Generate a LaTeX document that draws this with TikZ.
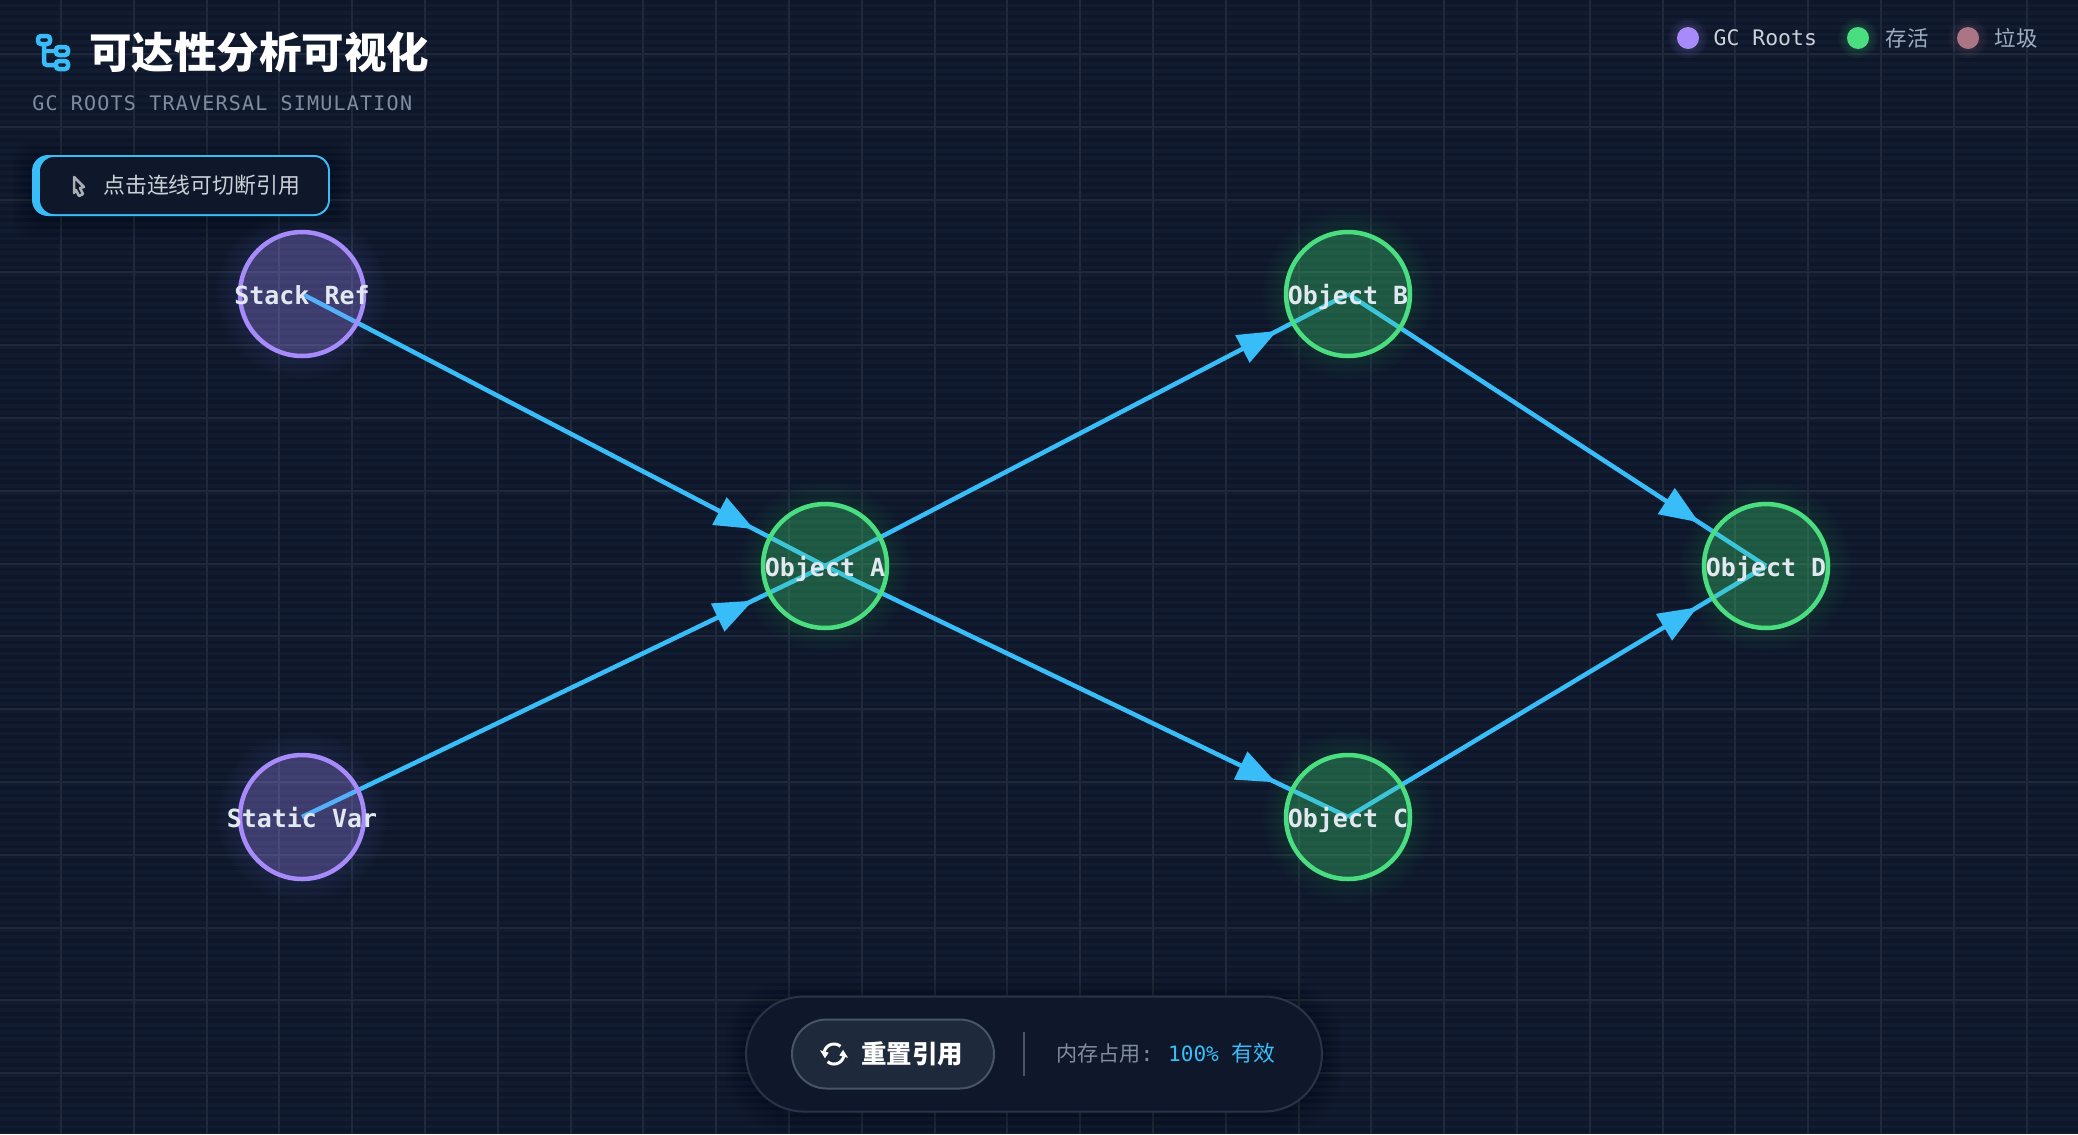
\documentclass[tikz,border=0pt]{standalone}
\usepackage{fontspec}
\setmainfont{DejaVu Sans Mono}
\newfontfamily\cjkfont{Noto Sans CJK SC}
\newfontfamily\spacedfont[LetterSpace=6]{DejaVu Sans Mono}
\usetikzlibrary{arrows.meta, positioning, decorations.markings}
\definecolor{cBase}{RGB}{18,28,49}
\definecolor{cScan}{RGB}{14,23,41}
\definecolor{cGrid}{RGB}{31,41,58}
\definecolor{cPanel}{RGB}{15,23,42}
\definecolor{cPanelLine}{RGB}{42,52,71}
\definecolor{cButton}{RGB}{30,41,59}
\definecolor{cButtonLine}{RGB}{71,85,105}
\definecolor{cSky}{RGB}{56,189,248}
\definecolor{cRoot}{RGB}{167,139,250}
\definecolor{cLive}{RGB}{74,222,128}
\definecolor{cDead}{RGB}{170,118,134}
\definecolor{cLabel}{RGB}{226,232,240}
\definecolor{cMuted}{RGB}{160,174,194}
\definecolor{cDim}{RGB}{128,141,160}
\pgfdeclarelayer{backdrop}
\pgfdeclarelayer{edges}
\pgfsetlayers{backdrop,edges,main}
\newcommand{\objtext}[1]{\makebox[0pt]{#1}}
\tikzset{
	objnode/.style ={circle, draw=#1, line width=0.09cm, fill=#1, fill opacity=0.26, text opacity=1, text=cLabel, minimum size=2.48cm, inner sep=0pt, font=\fontsize{14.2}{16}\selectfont\bfseries, text height=0.44cm, text depth=0.02cm},
	glowring/.style={circle, fill=#1, opacity=0.012, draw=none},
	shadowbox/.style={rectangle, fill=black, opacity=0.025, draw=none, inner sep=0pt},
	refline/.style ={draw=cSky, line width=0.09cm, postaction={decorate}, decoration={markings, mark=at position -1.6cm with {\arrow{Triangle[length=0.78cm, width=0.6cm]}}}},
	legdot/.style  ={circle, fill=#1, minimum size=0.44cm, inner sep=0pt},
	legtext/.style ={text=cMuted, inner sep=0pt, font=\fontsize{12.2}{14}\selectfont},
	iconline/.style={draw=cSky, line width=0.09cm, rounded corners=0.06cm},
}
\begin{document}
\begin{tikzpicture}[x=0.02cm, y=-0.02cm]
	\useasboundingbox (0,0) rectangle (2078,1134);
	% backdrop
	\begin{pgfonlayer}{backdrop}
		\fill[cBase] (0,0) rectangle (2078,1134);
		\foreach \k in {0,...,155} {
			\fill[cScan] (0,{\k*7.28}) rectangle (2078,{\k*7.28+3.6});
		}
		\foreach \k in {0,...,28} {
			\draw[cGrid, line width=0.04cm] ({61+\k*72.8},0) -- ({61+\k*72.8},1134);
		}
		\foreach \k in {0,...,15} {
			\draw[cGrid, line width=0.04cm] (0,{54+\k*72.8}) -- (2078,{54+\k*72.8});
		}
	\end{pgfonlayer}

	% graph
	\node[objnode=cRoot] (stack) at (302,294) {\objtext{Stack Ref}};
	\node[objnode=cRoot] (static) at (302,817) {\objtext{Static Var}};
	\node[objnode=cLive] (obja) at (825,566) {\objtext{Object A}};
	\node[objnode=cLive] (objb) at (1348,294) {\objtext{Object B}};
	\node[objnode=cLive] (objc) at (1348,817) {\objtext{Object C}};
	\node[objnode=cLive] (objd) at (1766,566) {\objtext{Object D}};

	\begin{pgfonlayer}{edges}
		\foreach \nd/\col in {stack/cRoot, static/cRoot, obja/cLive, objb/cLive, objc/cLive, objd/cLive} {
			\foreach \dd in {2.6,2.7,...,3.4} {
				\node[glowring=\col, minimum size=\dd cm] at (\nd.center) {};
			}
		}
		\foreach \dd in {0.1,0.2,...,0.8} {
			\node[shadowbox, rounded corners=0.4cm, minimum width=5.96cm+\dd cm, minimum height=1.22cm+\dd cm] at (181,190) {};
			\node[shadowbox, rounded corners=1.2cm, minimum width=11.52cm+\dd cm, minimum height=2.3cm+\dd cm] at (1034,1056) {};
		}
		\draw[refline] (stack.center) -- (obja.center);
		\draw[refline] (static.center) -- (obja.center);
		\draw[refline] (obja.center) -- (objb.center);
		\draw[refline] (obja.center) -- (objc.center);
		\draw[refline] (objb.center) -- (objd.center);
		\draw[refline] (objc.center) -- (objd.center);
	\end{pgfonlayer}

	% header
	\draw[iconline] (38,36) rectangle (50,44);
	\draw[iconline] (56,47) rectangle (68,55);
	\draw[iconline] (56,61) rectangle (68,69);
	\draw[iconline] (44,44) -- (44,65) -- (56,65);
	\draw[iconline] (44,51) -- (56,51);
	\node[anchor=west, inner sep=0pt, text=white, font=\cjkfont\bfseries\fontsize{24.2}{28}\selectfont] (title) at (89,52) {可达性分析可视化};
	\node[anchor=west, inner sep=0pt, text=cDim, font=\spacedfont\fontsize{11.4}{13}\selectfont] (subtitle) at (32,103.5) {GC ROOTS TRAVERSAL SIMULATION};

	% hint card
	\node[rectangle, fill=cSky, rounded corners=0.32cm, minimum width=5.96cm, minimum height=1.22cm, inner sep=0pt] (cardback) at (181,185.5) {};
	\node[rectangle, fill=cPanel, rounded corners=0.28cm, minimum width=5.76cm, minimum height=1.14cm, inner sep=0pt] (cardfront) at (184,185.5) {};
	\draw[draw=cLabel!75!black, fill=cPanel, line width=0.05cm, line join=round] (74,177) -- (84,187) -- (80,188) -- (83,194) -- (79,196) -- (76,190) -- (74,193) -- cycle;
	\node[anchor=west, inner sep=0pt, text=cLabel!90!black, font=\cjkfont\fontsize{12.45}{14}\selectfont] (hint) at (103,185) {点击连线可切断引用};

	% legend
	\foreach \dx/\col in {1688/cRoot, 1858/cLive, 1968/cDead} {
		\foreach \dd in {0.5,0.56,...,0.8} {
			\node[glowring=\col, opacity=0.03, minimum size=\dd cm] at (\dx,38) {};
		}
	}
	\node[legdot=cRoot] (dotroot) at (1688,38) {};
	\node[legtext, right=0.28cm of dotroot, text=cLabel!90!black] (txtroot) {GC Roots};
	\node[legdot=cLive] (dotlive) at (1858,38) {};
	\node[legtext, right=0.32cm of dotlive, font=\cjkfont\fontsize{12.2}{14}\selectfont] (txtlive) {存活};
	\node[legdot=cDead] (dotdead) at (1968,38) {};
	\node[legtext, right=0.3cm of dotdead, font=\cjkfont\fontsize{12.2}{14}\selectfont] (txtdead) {垃圾};

	% bottom bar
	\node[rectangle, draw=cPanelLine, fill=cPanel, line width=0.04cm, rounded corners=1.15cm, minimum width=11.52cm, minimum height=2.3cm, inner sep=0pt] (bar) at (1034,1054) {};
	\node[rectangle, draw=cButtonLine, fill=cButton, line width=0.04cm, rounded corners=0.69cm, minimum width=4.04cm, minimum height=1.38cm, inner sep=0pt] (reset) at (893,1054) {};
	\foreach \a in {0,180} {
		\draw[white, line width=0.06cm] plot[variable=\t, domain=50:165, samples=16] ({834+10*cos(\t+\a)},{1054-10*sin(\t+\a)});
		\fill[white] ({834+5.5*cos(165+\a)},{1054-5.5*sin(165+\a)}) -- ({834+14.5*cos(165+\a)},{1054-14.5*sin(165+\a)}) -- ({834+10*cos(205+\a)},{1054-10*sin(205+\a)}) -- cycle;
	}
	\node[anchor=west, inner sep=0pt, text=white, font=\cjkfont\bfseries\fontsize{14.5}{17}\selectfont] (resettxt) at (861,1054) {重置引用};
	\draw[cButtonLine, line width=0.04cm] (1024,1032) -- (1024,1076);
	\node[anchor=west, inner sep=0pt, text=cDim, font=\fontsize{12}{14}\selectfont] (memory) at (1056,1053) {{\cjkfont 内存占用}:\hspace{0.7em}\textcolor{cSky}{100\% {\cjkfont\fontsize{12.4}{14}\selectfont 有效}}};
\end{tikzpicture}
\end{document}
